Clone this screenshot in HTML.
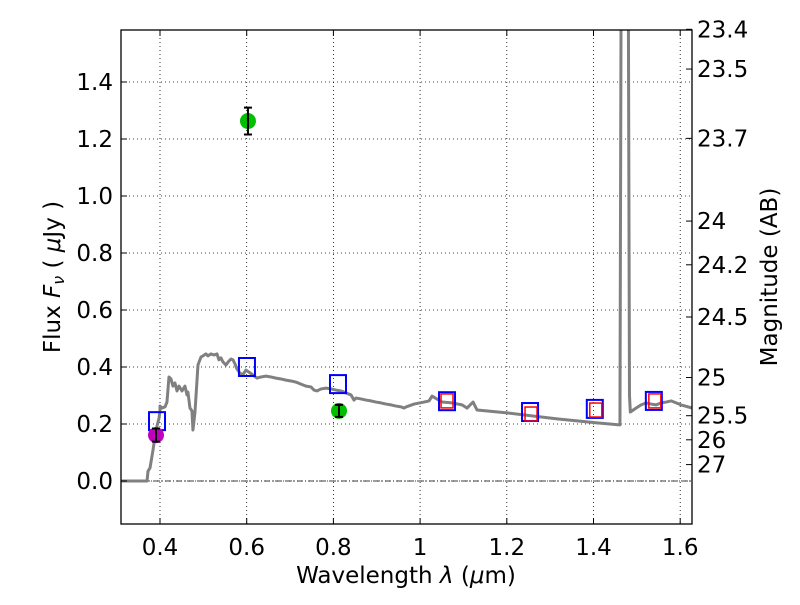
<!DOCTYPE html>
<html><head><meta charset="utf-8"><style>
body{margin:0;background:#fff}
text{font-family:"DejaVu Sans","Liberation Sans",sans-serif;font-size:23px;fill:#000}
</style></head><body>
<svg id="chart" width="800" height="600" xmlns="http://www.w3.org/2000/svg">
<defs><clipPath id="clip"><rect x="121" y="30" width="571" height="494"/></clipPath></defs>
<g id="grid"></g>
<g id="marks" clip-path="url(#clip)"></g>
<rect x="121" y="30" width="571" height="494" fill="none" stroke="#000" stroke-width="1.3"/>
<g id="axes"></g>
<text x="406" y="583" text-anchor="middle">Wavelength  <tspan font-style="italic">λ</tspan> (<tspan font-style="italic">μ</tspan>m)</text>
<text transform="translate(60,277) rotate(-90)" text-anchor="middle">Flux  <tspan font-style="italic">F<tspan font-size="16" dy="4">ν</tspan></tspan><tspan dy="-4">  ( </tspan><tspan font-style="italic">μ</tspan>Jy )</text>
<text transform="translate(777,277) rotate(-90)" text-anchor="middle">Magnitude (AB)</text>
</svg>
<script>
const xTicks=[0.4,0.6,0.8,1.0,1.2,1.4,1.6];
const xTickLabels=["0.4","0.6","0.8","1","1.2","1.4","1.6"];
const yTicks=[0.0,0.2,0.4,0.6,0.8,1.0,1.2,1.4];
const yTickLabels=["0.0","0.2","0.4","0.6","0.8","1.0","1.2","1.4"];
const magTicks=[23.4,23.5,23.7,24,24.2,24.5,25,25.5,26,27];
const sedWave=[0.31,0.3701,0.3724,0.3770,0.3839,0.3908,0.3978,0.4,0.4,0.4046,0.4115,0.4161,0.4207,0.4253,0.4299,0.4345,0.4392,0.4438,0.4507,0.4576,0.4622,0.4645,0.4668,0.4691,0.4737,0.4760,0.4807,0.4876,0.4945,0.4991,0.5060,0.5106,0.5175,0.5245,0.5314,0.5360,0.5406,0.5452,0.5521,0.5590,0.5637,0.5683,0.5729,0.5775,0.5844,0.5914,0.5937,0.5983,0.6052,0.6144,0.6237,0.6329,0.6444,0.6560,0.6675,0.6791,0.6906,0.7021,0.7137,0.7252,0.7368,0.7483,0.7552,0.7622,0.7714,0.7829,0.7945,0.8060,0.8175,0.8291,0.8406,0.8475,0.8522,0.8637,0.8752,0.8868,0.8983,0.9099,0.9214,0.9330,0.9445,0.9561,0.9630,0.9676,0.9860,1.0091,1.0206,1.0275,1.0507,1.0737,1.0968,1.1084,1.1153,1.1222,1.1314,1.2007,1.3160,1.4083,1.4600,1.4610,1.4640,1.4800,1.4830,1.4850,1.4984,1.5099,1.5215,1.5330,1.5445,1.5561,1.5676,1.5791,1.5907,1.6022,1.6276];
const sedFlux=[0.0,0.0,0.035,0.046,0.109,0.179,0.221,0.249,0.263,0.256,0.260,0.277,0.365,0.358,0.333,0.344,0.316,0.333,0.316,0.333,0.302,0.312,0.284,0.256,0.246,0.179,0.242,0.407,0.435,0.439,0.446,0.439,0.446,0.442,0.446,0.425,0.432,0.418,0.407,0.421,0.428,0.425,0.411,0.393,0.379,0.372,0.379,0.389,0.382,0.372,0.361,0.365,0.368,0.365,0.361,0.358,0.354,0.351,0.347,0.340,0.333,0.330,0.319,0.316,0.323,0.326,0.323,0.319,0.316,0.309,0.302,0.284,0.291,0.288,0.284,0.281,0.277,0.274,0.270,0.267,0.263,0.260,0.256,0.260,0.270,0.277,0.281,0.298,0.277,0.274,0.267,0.256,0.267,0.277,0.249,0.239,0.218,0.204,0.197,0.197,1.9,1.9,0.30,0.242,0.256,0.267,0.274,0.270,0.267,0.274,0.277,0.281,0.274,0.267,0.256];
const photWave=[0.3931,0.6006,0.8106,1.0621,1.2536,1.4030,1.5392];
const photModel=[0.21,0.40,0.34,0.28,0.242,0.253,0.281];
const fitWave=[1.0621,1.2559,1.4053,1.5415];
const fitFlux=[0.281,0.235,0.249,0.281];
const ptWave=[0.3908,0.6029,0.8129];
const ptFlux=[0.161,1.263,0.246];
const ptErr=[0.023,0.047,0.021];
const ptColor=["#bf00bf","#00bf00","#00bf00"];
const X=v=>160+(v-0.4)*433.5;
const Y=f=>481-f*285;
const NS="http://www.w3.org/2000/svg";
function mk(p,t,a){const e=document.createElementNS(NS,t);for(const k in a)e.setAttribute(k,a[k]);p.appendChild(e);return e;}
const grid=document.getElementById('grid'),marks=document.getElementById('marks'),axes=document.getElementById('axes');
xTicks.forEach((v,i)=>{
 const g=mk(grid,'line',{x1:X(v),x2:X(v),y1:30,y2:524,stroke:'#000','stroke-width':0.8,'stroke-dasharray':'1,3'});
 
 
 mk(axes,'line',{x1:X(v),x2:X(v),y1:524,y2:518,stroke:'#000'});
 mk(axes,'line',{x1:X(v),x2:X(v),y1:30,y2:36,stroke:'#000'});
 const t=mk(axes,'text',{x:X(v),y:555,'text-anchor':'middle'});t.textContent=xTickLabels[i];
 
 
});
yTicks.forEach((v,i)=>{
 const g=mk(grid,'line',{x1:121,x2:692,y1:Y(v),y2:Y(v),stroke:'#000','stroke-width':0.8,'stroke-dasharray':'1,3'});
 
 
 mk(axes,'line',{x1:121,x2:127,y1:Y(v),y2:Y(v),stroke:'#000'});
 const t=mk(axes,'text',{x:113,y:Y(v)+8,'text-anchor':'end'});t.textContent=yTickLabels[i];
 
 
});
magTicks.forEach(m=>{
 const y=Y(Math.pow(10,(23.9-m)/2.5));
 mk(axes,'line',{x1:686,x2:692,y1:y,y2:y,stroke:'#000'});
 const t=mk(axes,'text',{x:697,y:y+8});t.textContent=String(m);
 
 
});
const z=mk(marks,'line',{x1:121,x2:692,y1:Y(0),y2:Y(0),stroke:'#000','stroke-width':0.8,'stroke-dasharray':'6,2,1,2'});


const sed=mk(marks,'polyline',{points:sedWave.map((w,i)=>X(w)+','+Y(sedFlux[i])).join(' '),fill:'none',stroke:'#808080','stroke-width':3,'stroke-linejoin':'round'});


photWave.forEach((w,i)=>{
 const r=mk(marks,'rect',{x:X(w)-8,y:Y(photModel[i])-9,width:16,height:18,fill:'none',stroke:'#0000ff','stroke-width':2});
 
 
});
fitWave.forEach((w,i)=>{
 const r=mk(marks,'rect',{x:X(w)-6,y:Y(fitFlux[i])-7,width:12,height:14,fill:'none',stroke:'#ff0000','stroke-width':1.5});
 
 
});
ptWave.forEach((w,i)=>{
 const c=mk(marks,'circle',{cx:X(w),cy:Y(ptFlux[i]),r:8,fill:ptColor[i]});
 
 
 const x=X(w),y1=Y(ptFlux[i]+ptErr[i]),y2=Y(ptFlux[i]-ptErr[i]);
 const e=mk(marks,'path',{d:`M${x},${y1}V${y2}M${x-4},${y1}H${x+4}M${x-4},${y2}H${x+4}`,stroke:'#000','stroke-width':2,fill:'none'});
 
 
});
</script>
</body></html>
